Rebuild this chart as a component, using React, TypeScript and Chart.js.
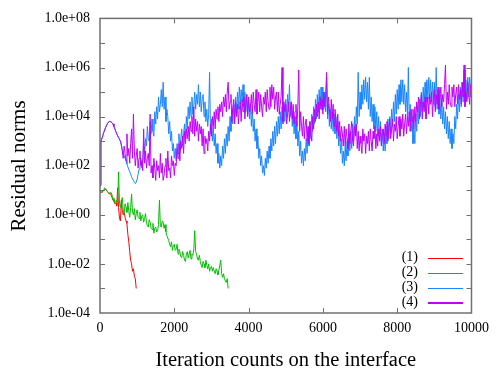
import React, { useEffect, useRef } from "react";
import { Chart, registerables } from "chart.js";

Chart.register(...registerables);

const STEP_1 = 25;
const STEP_2 = 25;
const STEP_3 = 25;
const STEP_4 = 25;

// log10 of residual norm
const series1Exp = [
  0.95, 0.92, 0.9, 0.95, 1.0, 1.0, 1.05, 1.0, 0.95, 0.9, 0.85, 0.88, 0.8, 0.7, 0.6, 0.55, 0.45, 0.5, 0.35, 1.1,
  0.3, -0.15, -0.25, 0.6, 0.15, 0.0, 0.1, -0.1, -0.25, -0.35, -0.8, -1.1, -1.5, -1.85, -2.0, -2.3, -2.2, -2.5,
  -2.6, -3.0,
];

const series2Exp = [
  0.95, 0.92, 0.9, 0.97, 1.0, 1.1, 1.05, 1.0, 0.95, 0.9, 0.85, 0.92, 0.9, 0.8, 0.6, 0.68, 0.5, 0.55, 0.6, 0.4,
  1.75, 0.45, 0.3, 0.55, 0.7, 0.2, 0.05, 0.45, 0.3, 0.1, 0.5, 0.15, -0.1, 0.3, 0.85, 0.1, 0.0, 0.25, -0.2, 0.05,
  0.2, -0.1, -0.15, 0.1, -0.25, -0.05, 0.0, -0.3, -0.15, 0.05, -0.3, -0.45, -0.5, -0.2, -0.3, -0.55, -0.6, -0.35,
  -0.75, -0.55, -0.5, -0.7, -0.65, -0.4, 0.6, -0.45, -0.5, -0.25, -0.3, -0.55, -0.4, -0.7, -0.85, -0.95, -1.05,
  -1.2, -1.3, -1.1, -1.45, -1.25, -1.2, -1.45, -1.4, -1.2, -1.6, -1.4, -1.5, -1.7, -1.75, -1.5, -1.65, -1.85,
  -1.9, -1.6, -1.5, -1.75, -1.6, -1.45, -1.8, -1.6, -1.65, -1.4, -0.65, -1.5, -1.6, -1.8, -1.85, -1.65, -1.9,
  -2.05, -2.15, -1.9, -2.0, -2.15, -1.85, -2.05, -2.2, -2.0, -2.3, -2.15, -2.1, -2.3, -2.15, -2.3, -2.4, -2.2,
  -2.3, -2.45, -2.25, -2.05, -1.85, -2.4, -2.55, -2.4, -2.6, -2.7, -2.75, -2.6, -3.0,
];

const series3Exp = [
  1.2, 3.0, 3.1, 3.22, 3.35, 3.45, 3.55, 3.64, 3.72, 3.77, 3.8, 3.8, 3.78, 3.75, 3.7, 3.6, 3.5, 3.4, 3.3, 3.22,
  3.15, 3.07, 3.0, 2.82, 2.65, 2.52, 2.4, 2.3, 2.2, 2.07, 1.95, 1.85, 1.75, 1.65, 1.55, 1.47, 1.4, 1.32, 1.27, 1.33,
  1.45, 1.65, 1.85, 1.95,
  2.3, 1.9, 2.2, 2.9, 2.5, 3.1, 2.8, 3.6, 3.1, 3.0,
  3.8, 3.3, 3.9, 3.4, 3.2, 4.2, 3.7, 4.4, 3.9, 4.8,
  4.2, 4.5, 5.1, 4.4, 5.4, 4.3, 4.8, 3.8, 4.3, 4.0,
  3.3, 3.8, 3.0, 3.4, 2.6, 2.9, 2.3, 2.7, 2.2, 2.9,
  2.5, 3.3, 2.6, 3.1, 3.5, 2.8, 3.3, 3.7, 3.1, 4.0,
  3.5, 4.4, 3.9, 4.6, 4.0, 4.8, 4.1, 4.4, 5.0, 4.3,
  4.9, 4.5, 5.3, 4.4, 5.0, 4.2, 4.7, 4.9, 4.0, 4.6,
  3.8, 4.3, 3.6, 4.1, 5.8, 3.3, 3.9, 3.0, 3.6, 2.8,
  3.3, 2.5, 2.9, 2.1, 2.5, 1.9, 2.4, 2.0, 2.8, 2.3,
  3.1, 2.5, 3.3, 2.8, 3.6, 3.0, 4.0, 3.4, 4.3, 3.7,
  4.5, 3.9, 4.8, 4.1, 5.0, 4.3, 5.2, 4.5, 5.1, 4.6,
  5.3, 4.4, 5.0, 4.2, 4.9, 4.1, 4.7, 3.9, 4.5, 3.6,
  4.3, 3.4, 3.9, 3.0, 3.5, 2.7, 3.2, 2.3, 2.7, 2.0,
  2.4, 1.7, 2.0, 1.6, 2.3, 1.9, 2.6, 2.1, 2.8, 2.3,
  3.1, 2.6, 3.4, 2.8, 3.6, 2.9, 3.8, 3.2, 4.0, 3.3,
  4.2, 3.5, 4.4, 3.7, 4.5, 3.8, 4.7, 4.0, 4.9, 4.2,
  5.3, 4.0, 4.6, 3.6, 4.2, 3.3, 4.0, 3.1, 3.8, 2.8,
  3.4, 2.4, 3.0, 2.1, 2.6, 2.0, 2.7, 2.2, 3.1, 2.5,
  3.5, 2.8, 3.8, 3.1, 4.1, 3.4, 4.4, 3.7, 4.7, 3.9,
  4.9, 4.2, 5.1, 4.3, 5.2, 4.4, 5.2, 4.3, 5.0, 4.2,
  5.6, 3.9, 4.5, 3.6, 4.3, 3.5, 4.2, 3.4, 4.1, 3.3,
  4.0, 3.1, 3.8, 2.8, 3.4, 2.5, 3.1, 2.1, 2.6, 2.0,
  2.8, 2.2, 3.0, 2.4, 3.3, 2.6, 3.4, 2.7, 3.7, 3.0,
  4.0, 3.3, 4.4, 3.7, 5.8, 4.0, 5.0, 4.3, 5.3, 4.5,
  5.5, 4.7, 5.6, 4.6, 5.4, 4.3, 5.6, 4.0, 4.8, 3.8,
  4.5, 3.5, 4.4, 3.4, 4.2, 3.2, 4.0, 3.0, 3.8, 2.8,
  3.5, 2.6, 3.3, 2.6, 3.6, 2.9, 3.9, 3.1, 4.0, 3.3,
  4.3, 3.6, 4.6, 3.8, 4.9, 4.1, 5.1, 4.3, 5.3, 4.5,
  5.5, 4.6, 5.5, 4.5, 5.3, 4.2, 5.0, 4.0, 6.0, 3.8,
  4.5, 3.4, 4.0, 2.9, 3.5, 2.9, 4.1, 3.4, 4.4, 3.7,
  4.7, 4.0, 5.0, 4.2, 5.2, 4.4, 5.4, 4.6, 5.5, 4.7,
  5.6, 4.7, 5.5, 4.6, 5.4, 4.5, 5.4, 4.4, 6.0, 4.3,
  5.1, 4.1, 4.9, 3.9, 4.6, 3.7, 4.4, 3.5, 4.2, 3.3,
  4.0, 3.1, 3.8, 2.9, 3.5, 2.7, 3.3, 2.9, 4.0, 3.5,
  4.5, 3.9, 4.9, 4.2, 5.2, 4.4, 5.4, 4.6, 5.9, 4.6,
  5.5, 4.7, 5.6, 4.8, 5.6, 4.8, 5.6,
];

const series4Exp = [
  1.2, 3.0, 3.1, 3.22, 3.35, 3.45, 3.55, 3.64, 3.72, 3.77, 3.8, 3.8, 3.78, 3.75, 3.7, 3.6, 3.5, 3.4, 3.3, 3.22,
  3.15, 3.07, 3.0, 2.85,
  2.6, 2.3, 2.8, 2.5, 2.2, 3.3, 2.4, 2.7, 2.1, 2.9, 3.5, 2.3, 4.1, 2.6,
  2.0, 2.4, 2.7, 1.9, 2.3, 2.6, 2.0, 2.2, 1.8, 3.5, 2.1, 2.6, 1.9, 2.3, 2.5, 2.0,
  4.1, 1.7, 2.0, 1.5, 2.3, 1.9, 1.4, 2.2, 1.8, 2.0, 1.5, 2.5, 1.7, 2.1, 1.4, 1.6, 2.0, 2.3, 1.5, 2.6,
  1.8, 1.9, 1.5, 2.4, 2.0, 2.2, 1.6, 2.1,
  2.0, 2.7, 2.3, 2.9, 2.2, 3.0, 2.7, 3.2, 2.5, 3.4, 2.9, 3.5, 3.1, 3.6, 3.0, 3.8, 3.4, 4.0, 3.3, 4.4,
  3.2, 3.9, 3.4, 3.8, 3.0, 3.7, 3.3, 3.6, 2.8, 3.5, 2.5, 3.2, 2.9, 3.1, 2.6, 3.4,
  3.0, 3.7, 3.2, 4.0, 3.6, 4.2, 3.5, 4.3, 3.9, 4.4, 3.8, 4.5, 4.2, 4.6, 4.0, 4.8, 4.4, 4.9, 4.2, 5.0,
  5.4, 4.3, 4.6, 4.9, 3.8, 4.4, 4.7, 3.7, 4.6, 4.0, 4.5, 3.7, 4.3, 4.6, 3.8, 4.7, 4.2, 4.8, 3.9, 4.5,
  4.9, 4.0,
  4.8, 4.2, 4.4, 4.9, 4.1, 5.0, 4.5, 4.2, 5.1, 4.1, 4.6, 5.0, 4.2, 4.9, 4.4, 4.0, 4.8, 4.5, 5.0, 4.2,
  5.1, 4.6, 4.3, 5.2, 4.4, 5.3, 4.7, 5.2, 4.3, 4.8, 5.0, 4.2, 5.0, 4.1, 4.5, 4.8,
  6.0, 3.8, 4.6, 4.2, 4.5, 3.7, 4.1, 4.6, 3.8, 4.3, 4.6, 3.9, 4.5, 3.7, 4.2, 4.5, 3.6, 4.4,
  5.9, 3.4, 4.2, 3.6, 3.2, 4.0, 3.1, 3.7, 3.9, 3.0, 3.6, 2.9, 3.8, 3.3, 3.0, 4.0,
  3.5, 4.3, 3.8, 4.5, 4.0, 4.6, 3.9, 4.8, 4.3, 4.7, 4.1, 5.0, 4.4, 4.9,
  5.8, 4.1, 4.8, 4.3, 3.8, 4.7, 3.9, 4.5, 3.6, 4.3, 3.9, 3.4, 4.1, 3.2, 3.8, 3.0, 3.6, 3.3, 2.8, 3.6,
  2.8, 3.5, 3.1, 2.7, 3.7, 2.9, 3.4, 3.8, 3.0, 2.8, 3.6, 3.2, 3.7, 2.7, 3.4, 2.6, 3.2, 2.9, 2.5, 3.5,
  3.0, 3.3, 2.5, 3.2, 2.9, 3.4, 2.6, 3.5, 3.0, 2.6, 3.4, 3.1, 3.6, 2.7, 3.3, 2.8,
  3.5, 3.0, 3.6, 2.8, 3.3, 3.5, 2.9, 3.7, 3.2, 3.8, 3.0, 3.6, 3.9, 3.1, 3.5, 3.9, 3.0, 3.7, 3.4, 4.0,
  3.1, 3.6, 4.0, 3.2, 3.9, 3.5, 4.1, 3.2, 3.7, 4.1, 3.3, 4.0, 3.6, 4.2, 3.4, 4.3, 3.8, 4.3, 3.5, 4.4,
  3.8, 4.6, 4.2, 4.8, 3.9, 4.5, 4.9, 3.9, 4.6, 4.2, 4.8, 3.9, 4.4, 4.8, 4.1, 4.9, 4.5, 5.0, 4.0, 4.7,
  5.1, 4.2, 4.9, 4.5, 5.2, 4.3, 4.8, 5.2, 4.4, 4.9, 4.6, 5.3,
  6.1, 4.3, 5.0, 4.5, 5.3, 4.6, 4.4, 5.2, 4.8, 5.3, 4.4, 4.9, 5.2, 4.5, 5.3, 4.7, 5.1, 4.5, 5.4, 4.8,
  6.1, 4.4, 5.0, 4.6, 5.4, 4.9, 4.5, 5.3, 5.0,
];

const seriesLabels = ["(1)", "(2)", "(3)", "(4)"];
const seriesColors = ["#ff0000", "#00c000", "#1a86ff", "#c000ff"];
const xTickStep = 2000;
const xMin = 0;
const xMax = 10000;
const yMinExp = -4;
const yMaxExp = 8;
const xTitle = "Iteration counts on the interface";
const yTitle = "Residual norms";

const FONT = "'Liberation Serif', 'Times New Roman', serif";

function toPoints(exps: number[], step: number) {
  return exps.map((e, i) => ({ x: i * step, y: Math.pow(10, e) }));
}

function fmtExp(v: number) {
  const e = Math.round(Math.log10(v));
  if (e % 2 !== 0) return "";
  const s = String(Math.abs(e)).padStart(2, "0");
  return "1.0e" + (e < 0 ? "-" : "+") + s;
}

const framePlugin = {
  id: "gnuFrame",
  afterDatasetsDraw(chart: any) {
    const { ctx, chartArea: a, scales } = chart;
    const xs = scales.x;
    const ys = scales.y;
    ctx.save();
    ctx.strokeStyle = "#707070";
    ctx.lineWidth = 1.5;
    ctx.strokeRect(a.left, a.top, a.right - a.left, a.bottom - a.top);
    ctx.lineWidth = 1;
    const tl = 5;
    ctx.beginPath();
    for (let e = yMinExp + 1; e < yMaxExp; e++) {
      const y = Math.round(ys.getPixelForValue(Math.pow(10, e))) + 0.5;
      ctx.moveTo(a.left, y);
      ctx.lineTo(a.left + tl, y);
      ctx.moveTo(a.right, y);
      ctx.lineTo(a.right - tl, y);
    }
    for (let v = xMin + xTickStep; v < xMax; v += xTickStep) {
      const x = Math.round(xs.getPixelForValue(v)) + 0.5;
      ctx.moveTo(x, a.bottom);
      ctx.lineTo(x, a.bottom - tl);
      ctx.moveTo(x, a.top);
      ctx.lineTo(x, a.top + tl);
    }
    ctx.stroke();
    ctx.restore();
  },
  afterDraw(chart: any) {
    const { ctx, chartArea: a } = chart;
    ctx.save();
    // legend
    ctx.font = "14px " + FONT;
    ctx.textAlign = "right";
    ctx.textBaseline = "middle";
    const ly = [257.5, 272.5, 287.5, 302];
    seriesLabels.forEach((lab, i) => {
      ctx.fillStyle = "#000";
      ctx.fillText(lab, 418, ly[i]);
      ctx.strokeStyle = seriesColors[i];
      ctx.lineWidth = i === 3 ? 2 : 1;
      ctx.beginPath();
      const yy = i === 3 ? Math.round(ly[i]) + 1 : Math.round(ly[i]) + 0.5;
      ctx.moveTo(428, yy);
      ctx.lineTo(463, yy);
      ctx.stroke();
    });
    // titles
    ctx.fillStyle = "#000";
    ctx.font = "20.5px " + FONT;
    ctx.textAlign = "center";
    ctx.textBaseline = "alphabetic";
    ctx.fillText(xTitle, (a.left + a.right) / 2, 366);
    ctx.translate(25, 166);
    ctx.rotate(-Math.PI / 2);
    ctx.font = "21px " + FONT;
    ctx.fillText(yTitle, 0, 0);
    ctx.restore();
  },
};

export default function App() {
  const ref = useRef<HTMLCanvasElement | null>(null);
  useEffect(() => {
    document.body.style.margin = "0";
    const canvas = ref.current!;
    const all = [
      toPoints(series1Exp, STEP_1),
      toPoints(series2Exp, STEP_2),
      toPoints(series3Exp, STEP_3),
      toPoints(series4Exp, STEP_4),
    ];
    const chart = new Chart(canvas, {
      type: "line",
      data: {
        datasets: all.map((pts, i) => ({
          label: seriesLabels[i],
          data: pts,
          borderColor: seriesColors[i],
          backgroundColor: seriesColors[i],
          borderWidth: 1,
          pointRadius: 0,
          tension: 0,
          fill: false,
          order: 4 - i,
        })),
      },
      options: {
        animation: false,
        responsive: false,
        devicePixelRatio: 1,
        layout: { padding: { top: 17, right: 18, left: 0, bottom: 0 } },
        plugins: { legend: { display: false }, tooltip: { enabled: false } },
        scales: {
          x: {
            type: "linear",
            min: xMin,
            max: xMax,
            grid: { display: false, drawTicks: false },
            border: { display: false },
            ticks: {
              stepSize: xTickStep,
              padding: 7,
              color: "#000",
              font: { family: FONT, size: 14 },
              maxRotation: 0,
              autoSkip: false,
              callback: (v: any) => String(v),
            },
            afterFit: (s: any) => {
              s.height = 56;
            },
          },
          y: {
            type: "logarithmic",
            min: Math.pow(10, yMinExp),
            max: Math.pow(10, yMaxExp),
            grid: { display: false, drawTicks: false },
            border: { display: false },
            afterBuildTicks: (s: any) => {
              const t = [];
              for (let e = yMinExp; e <= yMaxExp; e++) t.push({ value: Math.pow(10, e) });
              s.ticks = t;
            },
            ticks: {
              padding: 10,
              color: "#000",
              font: { family: FONT, size: 14 },
              autoSkip: false,
              callback: (v: any) => fmtExp(Number(v)),
            },
            afterFit: (s: any) => {
              s.width = 100;
            },
          },
        },
      },
      plugins: [framePlugin],
    });
    return () => chart.destroy();
  }, []);
  return (
    <div style={{ position: "absolute", left: 0, top: 0, width: 496, height: 369 }}>
      <canvas ref={ref} width={496} height={369} />
    </div>
  );
}
